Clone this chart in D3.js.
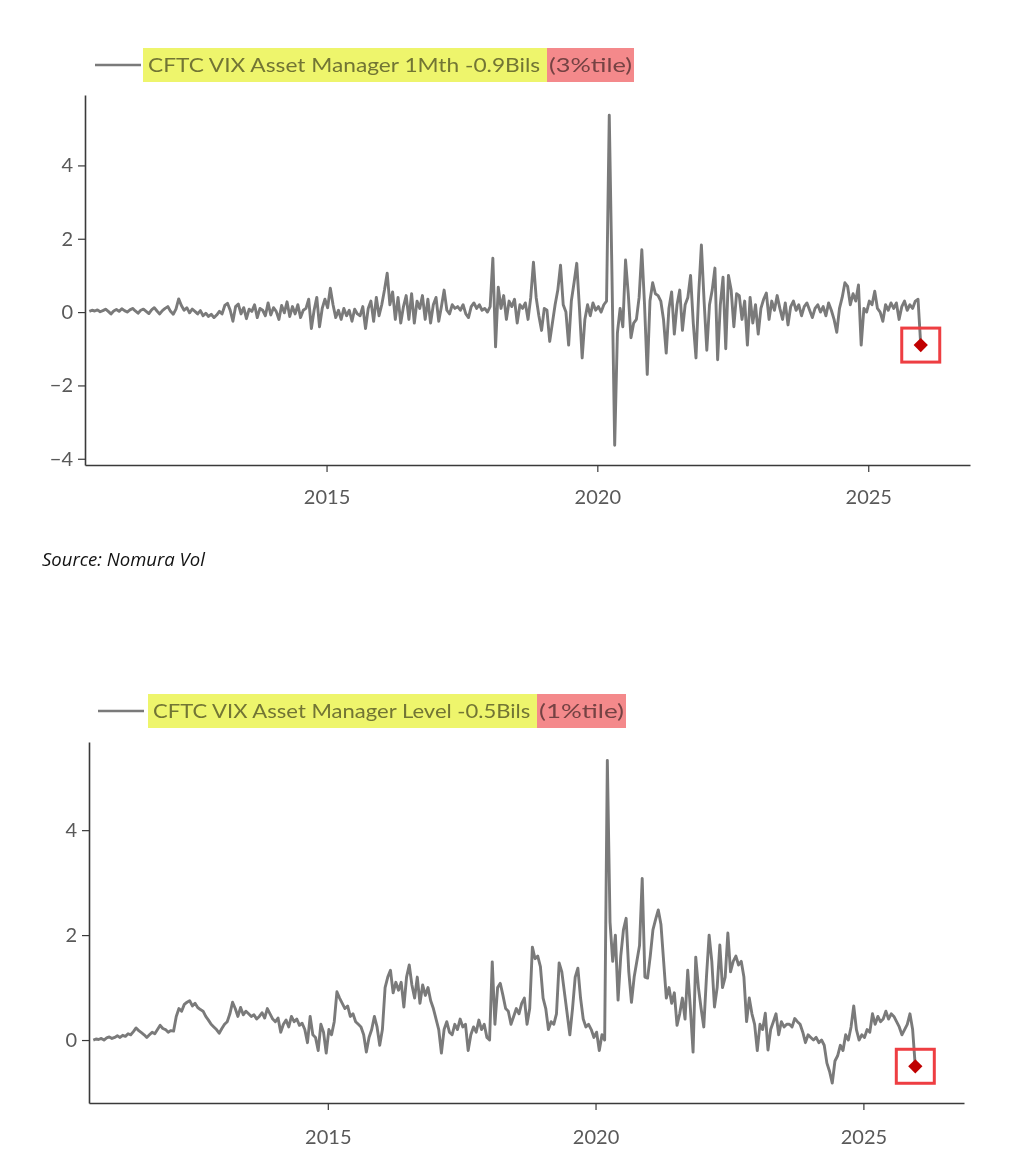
<!DOCTYPE html>
<html>
<head>
<meta charset="utf-8">
<script src="https://cdn.jsdelivr.net/npm/d3@7"></script>
<style>
  body { margin: 0; background: #fff; }
  text { font-family: Lato, "Open Sans", sans-serif; }
</style>
</head>
<body>
<div id="chart"></div>
<script>
// weekly-ish CFTC data, sampled every 0.05 yr starting mid 2010
var startYear = 2010.62, stepYears = 0.05;

var mthChange = [
  0.02, 0.05, 0.03, 0.06, 0.01, 0.04, 0.08, 0.02, -0.05, 0.03, 0.07, 0.02, 0.09, 0.04, 0.00, 0.06, 0.10, 0.03, -0.03, 0.05,
  0.08, 0.02, -0.04, 0.06, 0.12, 0.03, -0.05, 0.04, 0.10, 0.15, 0.02, -0.06, 0.08, 0.36, 0.18, 0.05, 0.12, -0.02, 0.08, 0.02,
  -0.05, 0.04, -0.10, -0.03, -0.12, -0.06, -0.15, -0.08, 0.02, -0.05, 0.18, 0.24, 0.05, -0.25, 0.15, 0.22, -0.05, 0.12, -0.18, 0.08,
  0.02, 0.20, -0.15, 0.10, 0.05, -0.10, 0.25, -0.08, 0.12, 0.02, -0.20, 0.18, -0.02, 0.28, -0.12, 0.15, -0.05, 0.20, -0.15, 0.05,
  0.10, 0.35, -0.45, 0.05, 0.40, -0.40, 0.10, 0.35, 0.12, 0.65, 0.20, -0.15, 0.05, -0.20, 0.10, -0.10, 0.05, -0.25, 0.08, -0.05,
  -0.10, 0.15, -0.45, 0.10, 0.30, -0.25, 0.40, -0.10, 0.20, 0.60, 1.06, 0.20, 0.55, -0.20, 0.40, -0.30, 0.15, 0.45, -0.20, 0.50,
  -0.30, 0.30, 0.10, 0.45, -0.20, 0.35, -0.30, 0.20, 0.40, -0.25, 0.15, 0.60, 0.05, -0.05, 0.20, 0.10, 0.15, 0.05, 0.20, -0.05,
  -0.15, 0.15, 0.25, 0.10, 0.20, 0.05, 0.10, 0.00, 0.15, 1.47, -0.95, 0.68, 0.10, 0.45, -0.20, 0.30, 0.15, 0.35, -0.30, 0.20,
  0.10, 0.25, -0.20, 0.40, 1.36, 0.40, -0.10, -0.50, 0.10, 0.05, -0.80, -0.30, 0.20, 0.60, 1.28, 0.20, 0.00, -0.90, 0.30, 0.80,
  1.33, 0.10, -1.25, -0.20, 0.20, -0.10, 0.25, 0.05, 0.15, 0.00, 0.20, 0.30, 5.37, 1.00, -3.63, -0.57, 0.10, -0.40, 1.42, 0.50,
  -0.70, -0.30, -0.20, 0.40, 1.70, 0.20, -1.70, 0.30, 0.80, 0.50, 0.45, 0.30, -0.20, -1.12, 0.10, 0.55, -0.60, 0.20, 0.60, -0.50,
  0.20, 0.40, 1.00, -0.30, -1.25, 0.50, 1.83, 0.30, -1.04, 0.20, 0.60, 1.20, -1.30, 0.20, 0.95, -1.00, 1.00, 0.60, -0.40, 0.50,
  0.45, -0.20, 0.30, -0.90, 0.40, -0.30, 0.20, -0.60, 0.10, 0.35, 0.52, -0.20, 0.30, 0.05, 0.45, 0.10, -0.20, 0.25, -0.35, 0.15,
  0.30, 0.05, 0.20, -0.10, 0.15, 0.25, 0.05, -0.15, 0.10, 0.20, 0.00, 0.15, -0.10, 0.25, 0.05, -0.20, -0.55, 0.10, 0.40, 0.80,
  0.70, 0.20, 0.50, 0.30, 0.74, -0.90, 0.10, 0.00, 0.30, 0.20, 0.57, 0.10, 0.00, -0.25, 0.20, 0.05, 0.25, 0.10, 0.25, -0.20,
  0.15, 0.30, 0.05, 0.20, 0.10, 0.30, 0.35, -0.90
];

var levelValues = [
  0.00, 0.02, 0.01, 0.03, 0.00, 0.04, 0.06, 0.03, 0.05, 0.08, 0.05, 0.09, 0.07, 0.12, 0.10, 0.16, 0.23, 0.18, 0.14, 0.10,
  0.05, 0.10, 0.15, 0.12, 0.20, 0.28, 0.22, 0.20, 0.15, 0.18, 0.17, 0.45, 0.60, 0.55, 0.68, 0.72, 0.75, 0.65, 0.70, 0.62,
  0.58, 0.55, 0.45, 0.38, 0.30, 0.25, 0.20, 0.13, 0.22, 0.30, 0.35, 0.50, 0.72, 0.60, 0.45, 0.62, 0.48, 0.55, 0.50, 0.45,
  0.48, 0.40, 0.45, 0.52, 0.42, 0.60, 0.50, 0.40, 0.35, 0.42, 0.15, 0.30, 0.38, 0.25, 0.45, 0.35, 0.40, 0.28, 0.32, 0.20,
  -0.05, 0.45, 0.10, 0.05, -0.20, 0.30, 0.15, -0.25, 0.20, 0.10, 0.35, 0.92, 0.80, 0.70, 0.60, 0.65, 0.45, 0.50, 0.35, 0.30,
  0.25, 0.10, -0.23, 0.05, 0.20, 0.45, 0.25, -0.10, 0.20, 1.00, 1.20, 1.33, 0.90, 1.10, 0.95, 1.10, 0.63, 1.20, 1.43, 1.05,
  0.80, 1.20, 0.70, 1.05, 0.85, 1.00, 0.75, 0.60, 0.40, 0.20, -0.25, 0.20, 0.35, 0.15, 0.10, 0.30, 0.20, 0.40, 0.25, 0.30,
  -0.20, 0.10, 0.25, 0.15, 0.38, 0.20, 0.30, 0.05, 0.00, 1.49, 0.30, 1.00, 1.08, 0.85, 0.60, 0.55, 0.30, 0.45, 0.60, 0.50,
  0.70, 0.80, 0.30, 0.60, 1.77, 1.55, 1.60, 1.40, 0.80, 0.60, 0.20, 0.35, 0.30, 0.50, 1.47, 1.30, 0.90, 0.50, 0.10, 0.60,
  1.20, 1.37, 0.80, 0.40, 0.25, 0.30, 0.20, 0.05, 0.15, -0.20, 0.10, 0.00, 5.33, 2.25, 1.50, 2.00, 0.76, 1.60, 2.10, 2.32,
  1.30, 0.72, 1.20, 1.50, 1.80, 3.08, 1.20, 1.18, 1.60, 2.10, 2.30, 2.48, 2.20, 1.50, 0.80, 1.00, 0.70, 0.90, 0.28, 0.50,
  0.80, 0.40, 1.33, 0.60, -0.23, 1.58, 1.00, 0.60, 0.25, 1.20, 2.00, 1.50, 0.63, 1.00, 1.81, 1.00, 1.20, 2.04, 1.30, 1.50,
  1.60, 1.43, 1.50, 1.20, 0.35, 0.80, 0.50, 0.30, -0.20, 0.30, 0.20, 0.51, -0.19, 0.20, 0.35, 0.50, 0.10, 0.35, 0.25, 0.30,
  0.30, 0.25, 0.41, 0.35, 0.30, 0.15, -0.05, 0.10, 0.05, 0.00, 0.05, -0.05, 0.00, -0.10, -0.44, -0.60, -0.82, -0.40, -0.30, -0.10,
  -0.20, 0.10, 0.00, 0.25, 0.65, 0.20, 0.00, 0.10, 0.05, 0.20, 0.15, 0.50, 0.30, 0.45, 0.35, 0.40, 0.55, 0.40, 0.50, 0.45,
  0.35, 0.25, 0.10, 0.20, 0.30, 0.50, 0.20, -0.50
];

var xTickYears = [2015, 2020, 2025];
var mthTicks = [-4, -2, 0, 2, 4];
var levelTicks = [0, 2, 4];
var legendNames = ["CFTC VIX Asset Manager 1Mth -0.9Bils ", "CFTC VIX Asset Manager Level -0.5Bils "];
var legendPct = ["(3%tile)", "(1%tile)"];

var W = 1022, H = 1158;
var lineColor = "#7a7a7a", axisColor = "#3a3a3a", labelColor = "#595959";

function decToDate(y) {
  var yr = Math.floor(y);
  var a = new Date(yr, 0, 1), b = new Date(yr + 1, 0, 1);
  return new Date(+a + (y - yr) * (b - a));
}

var svg = d3.select("#chart").append("svg")
  .attr("width", W).attr("height", H);

function drawChart(values, ticks, box, leg) {
  var data = values.map(function(v, i) { return {date: decToDate(startYear + i * stepYears), value: v}; });

  var x = d3.scaleTime().domain([decToDate(2010.54), decToDate(2026.88)]).range([box.left, box.right]);
  var y = d3.scaleLinear().domain(box.yDomain).range([box.bottom, box.top]);

  var yAxis = d3.axisLeft(y).tickValues(ticks).tickFormat(d3.format("d"))
    .tickSize(7).tickSizeOuter(0).tickPadding(5);
  var xAxis = d3.axisBottom(x).tickValues(xTickYears.map(function(d) { return new Date(d, 0, 1); }))
    .tickFormat(d3.timeFormat("%Y")).tickSize(7).tickSizeOuter(0).tickPadding(box.xPad);

  var gy = svg.append("g").attr("transform", "translate(" + box.left + ",0)").call(yAxis);
  var gx = svg.append("g").attr("transform", "translate(0," + box.bottom + ")").call(xAxis);
  [gx, gy].forEach(function(g) {
    g.select(".domain").attr("stroke", axisColor).attr("stroke-width", 1.6);
    g.selectAll(".tick line").attr("stroke", axisColor).attr("stroke-width", 1.2);
    g.selectAll(".tick text").attr("fill", labelColor).style("font-size", "20px")
      .style("font-family", "Lato, 'Open Sans', sans-serif");
  });

  var line = d3.line().x(function(d) { return x(d.date); }).y(function(d) { return y(d.value); });
  svg.append("path").datum(data)
    .attr("fill", "none").attr("stroke", lineColor).attr("stroke-width", 2.9)
    .attr("stroke-linejoin", "round").attr("d", line);

  // last point marker + red box
  var last = data[data.length - 1];
  var mx = x(last.date), my = y(last.value);
  svg.append("path")
    .attr("d", d3.symbol().type(d3.symbolDiamond2).size(130)())
    .attr("transform", "translate(" + mx + "," + my + ")")
    .attr("fill", "#c00000");
  svg.append("rect")
    .attr("x", mx - 19).attr("y", my - 17).attr("width", 38).attr("height", 34)
    .attr("fill", "none").attr("stroke", "#ee3e42").attr("stroke-width", 3);

  // legend with highlighter boxes
  var lg = svg.append("g");
  lg.append("line").attr("x1", leg.x).attr("x2", leg.x + 46).attr("y1", leg.y).attr("y2", leg.y)
    .attr("stroke", lineColor).attr("stroke-width", 2.6);
  var t1 = lg.append("text").attr("x", leg.hx + 5).attr("y", leg.y).attr("dy", "0.35em")
    .attr("fill", "#7a7a7a").style("font-size", "20px").style("white-space", "pre").text(leg.name);
  t1.attr("textLength", leg.nameW - 6).attr("lengthAdjust", "spacingAndGlyphs");
  var t2 = lg.append("text").attr("x", leg.hx + leg.nameW + 2).attr("y", leg.y).attr("dy", "0.35em")
    .attr("fill", "#7a7a7a").style("font-size", "20px").text(leg.pct);
  t2.attr("textLength", leg.pctW - 4).attr("lengthAdjust", "spacingAndGlyphs");
  lg.append("rect").attr("x", leg.hx).attr("y", leg.y - 17).attr("width", leg.nameW).attr("height", 34)
    .attr("fill", "#eef56c").style("mix-blend-mode", "multiply");
  lg.append("rect").attr("x", leg.hx + leg.nameW).attr("y", leg.y - 17).attr("width", leg.pctW).attr("height", 34)
    .attr("fill", "#f4898b").style("mix-blend-mode", "multiply");
}

drawChart(mthChange, mthTicks,
  {left: 85, right: 970, top: 95, bottom: 465, yDomain: [-4.17, 5.92], xPad: 18},
  {x: 95, y: 65, hx: 143, nameW: 404, pctW: 87, name: legendNames[0], pct: legendPct[0]});

drawChart(levelValues, levelTicks,
  {left: 89, right: 964, top: 742, bottom: 1103, yDomain: [-1.2, 5.68], xPad: 20},
  {x: 98, y: 711, hx: 148, nameW: 389, pctW: 89, name: legendNames[1], pct: legendPct[1]});

svg.append("text").attr("x", 42).attr("y", 566)
  .attr("fill", "#111").style("font-size", "18.5px").style("font-style", "italic")
  .style("font-family", "'Open Sans', Lato, sans-serif")
  .text("Source: Nomura Vol");
</script>
</body>
</html>
